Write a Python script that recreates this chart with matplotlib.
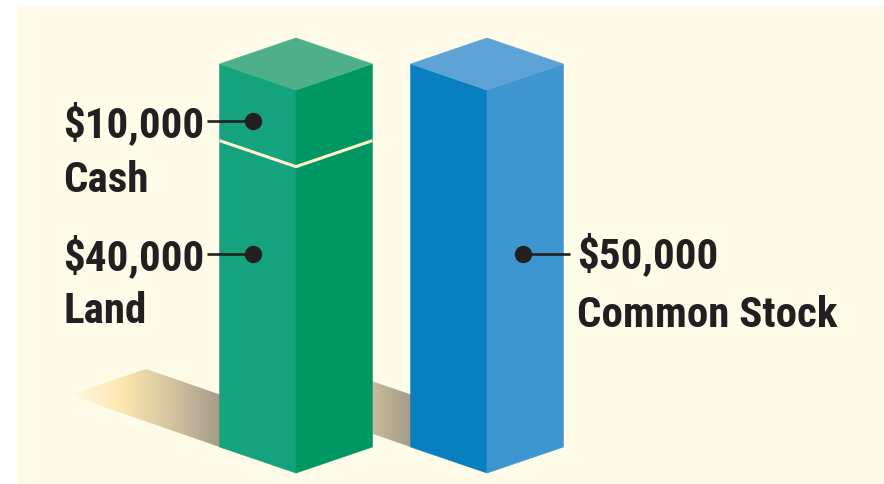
import numpy as np
import matplotlib
matplotlib.use('Agg')
import matplotlib.pyplot as plt
import matplotlib.transforms as mtransforms
from matplotlib.patches import Polygon, Rectangle
from matplotlib.colors import LinearSegmentedColormap

# Data
asset_names = ['Land', 'Cash']
asset_values = [40000, 10000]
equity_names = ['Common Stock']
equity_values = [50000]

# Layout
W, H = 884, 484
bar_w = 0.40        # half width of a block, category units
depth = 3400        # isometric drop, value units
shadow_dx, shadow_dy = -0.785, 6790

ink = '#231f20'
cream = '#fefbe9'
green = {'left': '#14a37c', 'right': '#009762', 'top': '#4db08b'}
blue = {'left': '#0880c0', 'right': '#3e96d1', 'top': '#5ea3d6'}

fig = plt.figure(figsize=(W / 100, H / 100), dpi=100)
fig.patch.set_facecolor('white')
ax = fig.add_axes([0, 0, 1, 1])
ax.axis('off')
ax.set_xlim(-1.5497, 3.0785)
ax.set_ylim(-4830, 58355)

# pixel coords (from top-left) for layout items
px = mtransforms.Affine2D().scale(1 / W, -1 / H).translate(0, 1) + fig.transFigure

ax.add_patch(Rectangle((17, 7), W - 17, H - 7, transform=px,
                       facecolor=cream, edgecolor='none', zorder=0))

shadow_cmap = LinearSegmentedColormap.from_list(
    'shadow', [(0, cream), (0.35, '#fde6ae'), (0.75, '#c9bb9c'), (1, '#a59c88')])


def draw_shadow(c):
    L = (c - bar_w, 0)
    B = (c, depth)
    Lo = (L[0] + shadow_dx, L[1] + shadow_dy)
    Bo = (B[0] + shadow_dx, B[1] + shadow_dy)
    poly = Polygon([L, Lo, Bo, B], closed=True, transform=ax.transData,
                   facecolor='none', edgecolor='none')
    ax.add_patch(poly)
    grad = np.linspace(0, 1, 256)[None, :]
    im = ax.imshow(grad, extent=[Lo[0], L[0], 0, depth + shadow_dy],
                   cmap=shadow_cmap, aspect='auto', interpolation='bilinear',
                   zorder=1)
    im.set_clip_path(poly)


def draw_block(c, y0, y1, cols, top=True):
    left = [(c - bar_w, y0), (c, y0 - depth), (c, y1 - depth), (c - bar_w, y1)]
    right = [(c, y0 - depth), (c + bar_w, y0), (c + bar_w, y1), (c, y1 - depth)]
    ax.add_patch(Polygon(left, closed=True, facecolor=cols['left'],
                         edgecolor=cols['left'], lw=0.4, zorder=3))
    ax.add_patch(Polygon(right, closed=True, facecolor=cols['right'],
                         edgecolor=cols['right'], lw=0.4, zorder=3))
    if top:
        lid = [(c - bar_w, y1), (c, y1 + depth), (c + bar_w, y1), (c, y1 - depth)]
        ax.add_patch(Polygon(lid, closed=True, facecolor=cols['top'],
                             edgecolor=cols['top'], lw=0.4, zorder=3))


positions = [0, 1]
draw_shadow(positions[1])
draw_shadow(positions[0])

# green stacked block: assets
bottom = 0
for i, v in enumerate(asset_values):
    draw_block(positions[0], bottom, bottom + v, green, top=(i == len(asset_values) - 1))
    bottom += v
cut = asset_values[0]
c = positions[0]
ax.plot([c - bar_w, c, c + bar_w], [cut, cut - depth, cut], color='#fff4cc',
        lw=2.2, solid_joinstyle='miter', solid_capstyle='butt', zorder=4)

# blue block: equity
draw_block(positions[1], 0, equity_values[0], blue)


def px2data(x, y):
    return ax.transData.inverted().transform(px.transform((x, y)))


font = dict(family=['Roboto Condensed', 'DejaVu Sans'], weight='bold',
            color=ink, fontsize=31, transform=px, va='baseline', zorder=6)

# labels: (value, name, dot px, line end px, text x px, baselines px)
labels = [
    (asset_values[1], asset_names[1], (253, 121), 207, 63, (137, 192)),
    (asset_values[0], asset_names[0], (253, 254), 207, 63, (270, 323)),
    (equity_values[0], equity_names[0], (523, 254), 570, 577, (268, 327)),
]
for val, name, dot, line_end, tx, (b1, b2) in labels:
    dx, dy = px2data(*dot)
    ex, _ = px2data(line_end, dot[1])
    ax.plot([ex, dx], [dy, dy], color=ink, lw=1.9, solid_capstyle='butt', zorder=5)
    ax.plot(dx, dy, 'o', ms=11.5, color=ink, zorder=5)
    ax.text(tx, b1, f'${val:,}', ha='left', **font)
    ax.text(tx, b2, name, ha='left', **font)

ax.set_xlim(-1.5497, 3.0785)
ax.set_ylim(-4830, 58355)
fig.savefig('out.png', dpi=100, facecolor=fig.get_facecolor())
